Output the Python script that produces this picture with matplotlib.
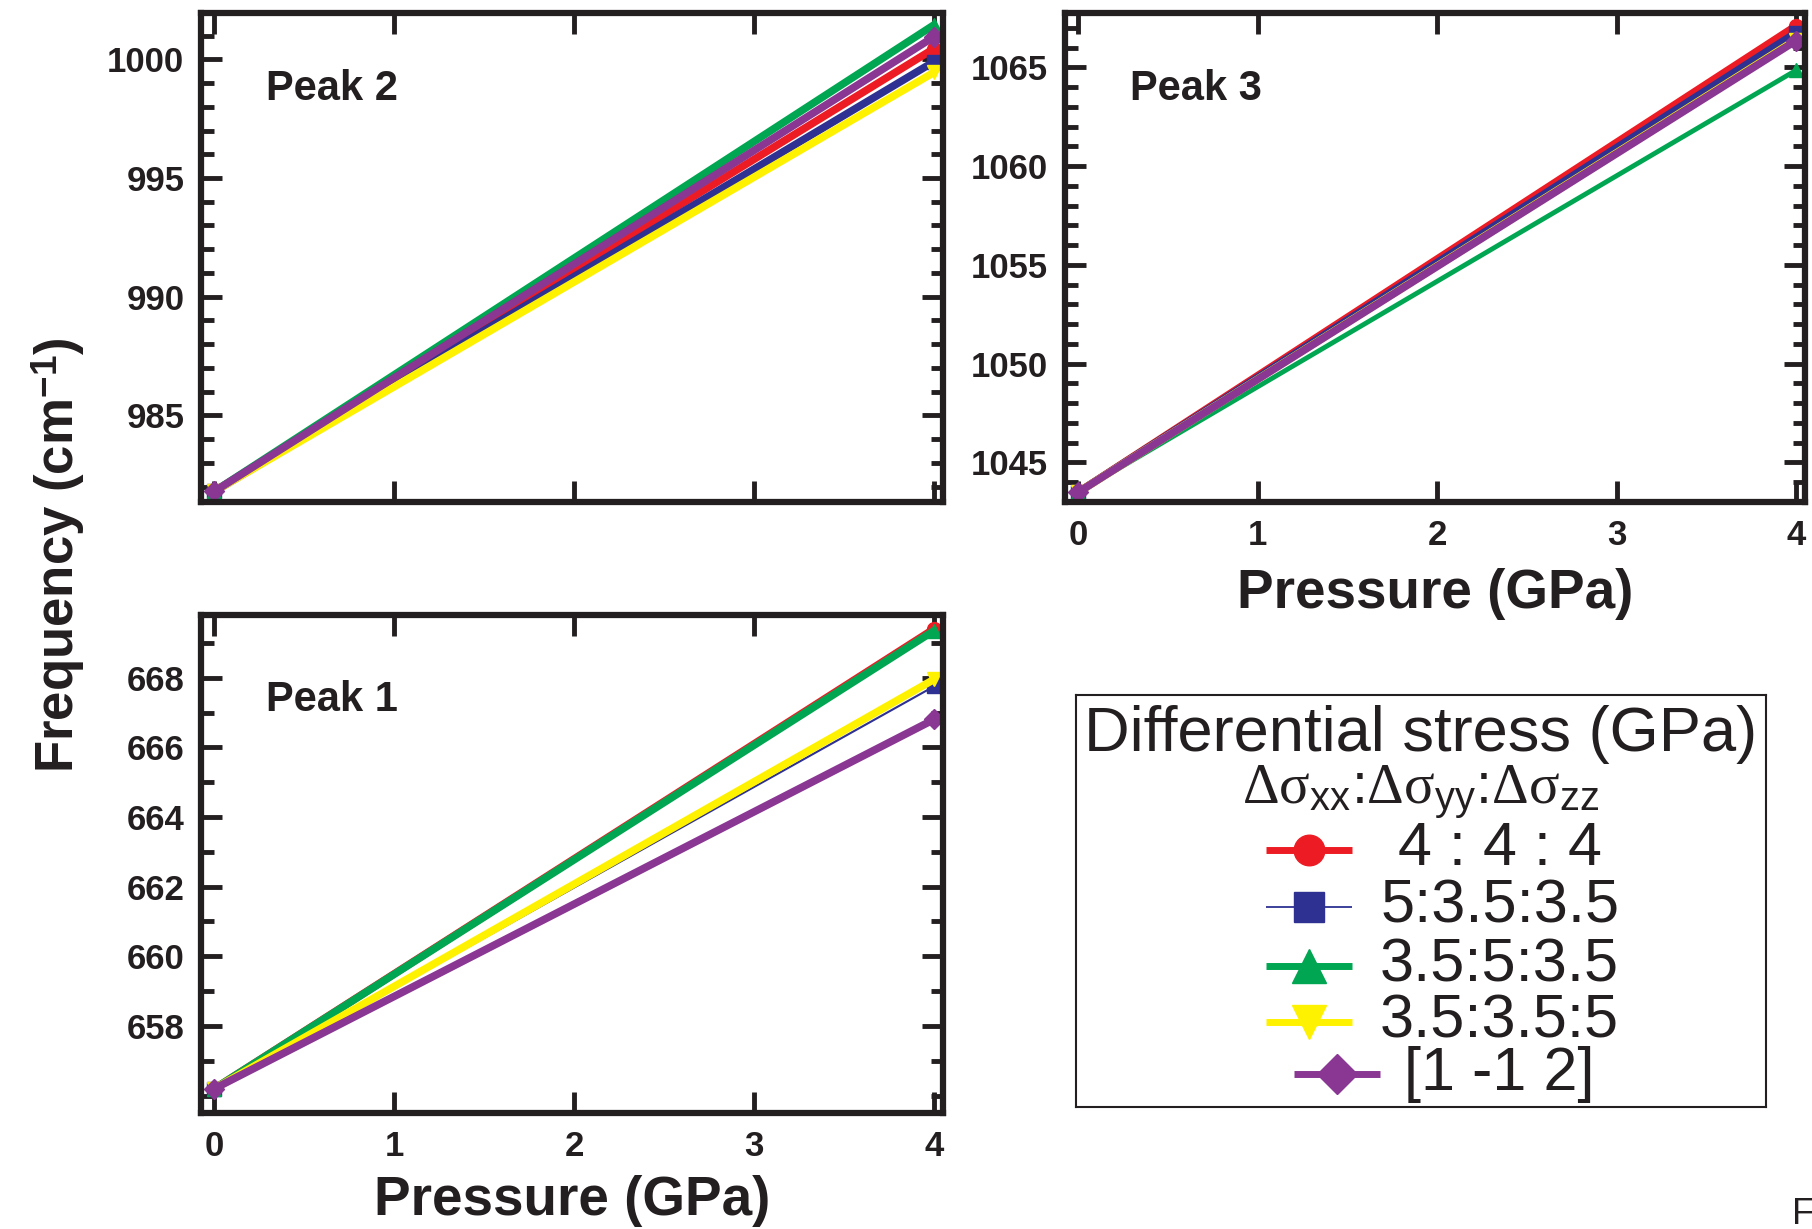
import matplotlib.pyplot as plt
from matplotlib.ticker import MultipleLocator, FixedLocator

plt.rcParams['font.family'] = ['Liberation Sans', 'DejaVu Sans']
plt.rcParams['mathtext.fontset'] = 'custom'
plt.rcParams['mathtext.rm'] = 'Liberation Serif'
plt.rcParams['mathtext.it'] = 'Liberation Serif:italic'
plt.rcParams['mathtext.sf'] = 'Liberation Sans'
plt.rcParams['mathtext.bf'] = 'Liberation Sans:bold'

# data
pressure = [0, 4]
series = ['4 : 4 : 4', '5:3.5:3.5', '3.5:5:3.5', '3.5:3.5:5', '[1 -1 2]']
peak1 = {'4 : 4 : 4': [656.2, 669.4], '5:3.5:3.5': [656.2, 667.75],
         '3.5:5:3.5': [656.2, 669.35], '3.5:3.5:5': [656.2, 667.95],
         '[1 -1 2]': [656.2, 666.8]}
peak2 = {'4 : 4 : 4': [981.8, 1000.45], '5:3.5:3.5': [981.8, 999.9],
         '3.5:5:3.5': [981.8, 1001.45], '3.5:3.5:5': [981.8, 999.45],
         '[1 -1 2]': [981.8, 1000.95]}
peak3 = {'4 : 4 : 4': [1043.5, 1067.1], '5:3.5:3.5': [1043.5, 1066.75],
         '3.5:5:3.5': [1043.5, 1064.85], '3.5:3.5:5': [1043.5, 1066.4],
         '[1 -1 2]': [1043.5, 1066.35]}
ticks1 = [658, 660, 662, 664, 666, 668]
ticks2 = [985, 990, 995, 1000]
ticks3 = [1045, 1050, 1055, 1060, 1065]

colors = ['#ED1C24', '#2E3192', '#00A651', '#FFF200', '#8A3793']
markers = ['o', 's', '^', 'v', 'D']
ink = '#231F20'

W, H = 1812, 1229
fig = plt.figure(figsize=(W / 100, H / 100), dpi=100)


def box(l, t, r, b):
    return [l / W, 1 - b / H, (r - l) / W, (b - t) / H]


def panel(rect, data, widths, ylim, yticks, name, name_y, xlabels):
    ax = fig.add_axes(rect)
    for s, c, m, lw in zip(series, colors, markers, widths):
        ax.plot(pressure, data[s], color=c, lw=lw, marker=m, ms=10,
                mec=c, clip_on=False, solid_capstyle='butt')
    ax.set_xlim(-0.075, 4.05)
    ax.set_ylim(*ylim)
    ax.xaxis.set_major_locator(MultipleLocator(1))
    ax.yaxis.set_major_locator(FixedLocator(yticks))
    ax.yaxis.set_minor_locator(MultipleLocator(1))
    ax.tick_params(which='both', direction='in', top=True, right=True,
                   width=3.5, color=ink, labelsize=25, labelcolor=ink)
    ax.tick_params(which='major', length=15, pad=12)
    ax.tick_params(which='minor', length=9)
    for lab in ax.get_xticklabels() + ax.get_yticklabels():
        lab.set_fontweight('bold')
    if not xlabels:
        ax.set_xticklabels([])
    for sp in ax.spines.values():
        sp.set_linewidth(4.5)
        sp.set_color(ink)
        sp.set_zorder(5)
    ax.text(0.088, name_y, name, transform=ax.transAxes, fontsize=30,
            fontweight='bold', color=ink, va='center')
    return ax


panel(box(201, 13, 943, 502), peak2, [5.5, 5.5, 5.5, 5.5, 5.5],
      (981.35, 1001.95), ticks2, 'Peak 2', 0.845, False)
ax3 = panel(box(1065, 13, 1805, 502), peak3, [5.5, 5.5, 3.5, 5.5, 5.5],
            (1043.0, 1067.75), ticks3, 'Peak 3', 0.845, True)
ax1 = panel(box(201, 615, 943, 1113), peak1, [5.5, 1.5, 5.5, 5.5, 5.5],
            (655.5, 669.8), ticks1, 'Peak 1', 0.83, True)

ax3.set_xlabel('Pressure (GPa)', fontsize=39.5, fontweight='bold',
               color=ink, labelpad=12)
ax1.set_xlabel('Pressure (GPa)', fontsize=39.5, fontweight='bold',
               color=ink, labelpad=9)
fig.text(58 / W, 1 - 555 / H, 'Frequency (cm$^{\\mathbf{-1}}$)', rotation=90,
         fontsize=38, fontweight='bold', color=ink, ha='center', va='center')

# legend box
lg = fig.add_axes(box(1076, 695, 1766, 1107))
lg.set_xlim(0, 1)
lg.set_ylim(0, 1)
lg.set_xticks([])
lg.set_yticks([])
for sp in lg.spines.values():
    sp.set_linewidth(1.5)
    sp.set_color(ink)
lg.text(0.5, 0.905, 'Differential stress (GPa)', fontsize=45.5, ha='center',
        va='center', color=ink)
lg.text(0.5, 0.765,
        r'$\mathrm{\Delta\sigma}_{\mathsf{xx}}$:$\mathrm{\Delta\sigma}_{\mathsf{yy}}$:$\mathrm{\Delta\sigma}_{\mathsf{zz}}$',
        fontsize=41, ha='center', va='center', color=ink)
rows_y = [0.625, 0.485, 0.343, 0.207, 0.08]
leg_lw = [5, 1.3, 5, 5, 5]
leg_ms = [22, 22, 24, 24, 20]
leg_cx = [0.338, 0.338, 0.338, 0.338, 0.378]
for s, c, m, y, lw, ms, cx in zip(series, colors, markers, rows_y, leg_lw,
                                  leg_ms, leg_cx):
    lg.plot([cx - 0.062, cx + 0.062], [y, y], color=c, lw=lw,
            solid_capstyle='butt')
    lg.plot([cx], [y], color=c, marker=m, ms=ms, mec=c)
    lg.text(0.614, y, s, fontsize=44, ha='center', va='center', color=ink)

fig.text(1792 / W, 1 - 1214 / H, 'F', fontsize=26, va='center', color=ink)

fig.savefig('out.png', dpi=100)
